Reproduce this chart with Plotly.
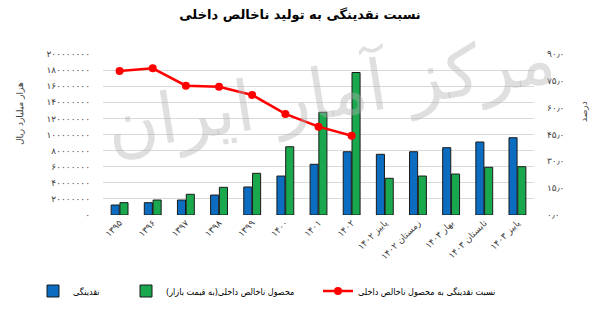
import plotly.graph_objects as go

categories = ["۱۳۹۵", "۱۳۹۶", "۱۳۹۷", "۱۳۹۸", "۱۳۹۹", "۱۴۰۰", "۱۴۰۱", "۱۴۰۲",
              "پاییز ۱۴۰۲", "زمستان ۱۴۰۲", "بهار ۱۴۰۳", "تابستان ۱۴۰۳", "پاییز ۱۴۰۳"]
liquidity = [12.4e6, 15.3e6, 18.6e6, 24.8e6, 34.8e6, 48.4e6, 63.0e6, 78.6e6,
             75.4e6, 78.6e6, 83.6e6, 90.7e6, 96.0e6]
gdp = [15.3e6, 18.6e6, 25.7e6, 34.4e6, 51.8e6, 84.8e6, 127.6e6, 177.0e6,
       45.6e6, 48.4e6, 50.9e6, 59.3e6, 60.0e6]
ratio = [80.5, 82.0, 72.3, 71.7, 67.1, 56.5, 49.4, 44.3,
         None, None, None, None, None]

left_ticks = [i * 20000000 for i in range(11)]
right_ticks = [0, 15, 30, 45, 60, 75, 90]

name_liq = "نقدینگی"
name_gdp = "محصول ناخالص داخلی(به قیمت بازار)"
name_ratio = "نسبت نقدینگی به محصول ناخالص داخلی"
title_text = "نسبت نقدینگی به تولید ناخالص داخلی"
left_title = "هزار میلیارد ریال"
right_title = "درصد"
watermark = "مرکز آمار ایران"

FA = str.maketrans("0123456789", "۰۱۲۳۴۵۶۷۸۹")
def fa(s):
    return str(s).translate(FA)

left_text = [fa(v) for v in left_ticks]
right_text = [fa(v) + "٫" + "۰" for v in right_ticks]

FONT = "DejaVu Sans"
FONT_C = "DejaVu Sans Condensed, DejaVu Sans"

fig = go.Figure()
fig.add_trace(go.Bar(
    x=categories, y=liquidity, name=name_liq, legend="legend",
    marker=dict(color="#0b6cc0", line=dict(color="#1a1a1a", width=1)),
))
fig.add_trace(go.Bar(
    x=categories, y=gdp, name=name_gdp, legend="legend2",
    marker=dict(color="#19a84e", line=dict(color="#1a1a1a", width=1)),
))
fig.add_trace(go.Scatter(
    x=categories, y=ratio, name=name_ratio, yaxis="y2", legend="legend3",
    mode="lines+markers",
    line=dict(color="#ff0000", width=2.5),
    marker=dict(color="#ff0000", size=8),
))

leg_y = 1 - 291 / 314
def leg(xpx):
    return dict(orientation="h", xref="container", yref="container",
                x=xpx / 600, xanchor="left", y=leg_y, yanchor="middle",
                font=dict(family=FONT_C, size=9, color="#000000"),
                itemwidth=30, bgcolor="rgba(0,0,0,0)")

fig.update_layout(
    width=600, height=314,
    margin=dict(l=103, r=66, t=54, b=99, autoexpand=False),
    paper_bgcolor="white", plot_bgcolor="white",
    font=dict(family=FONT, size=9, color="#404040"),
    barmode="group", bargap=0.47, bargroupgap=0.08,
    title=dict(text="<b>" + title_text + "</b>", x=0.5, xanchor="center",
               y=1 - 14 / 314, yanchor="middle",
               font=dict(family=FONT, size=13, color="#000000")),
    xaxis=dict(type="category", range=[-0.5, len(categories) - 0.5],
               tickangle=-45, showgrid=False, automargin=False,
               showline=False, ticks="", tickfont=dict(size=9, color="#404040")),
    yaxis=dict(range=[0, 200000000], tickvals=left_ticks, ticktext=left_text,
               automargin=False, ticklabelstandoff=12,
               showgrid=True, gridcolor="#d9d9d9", gridwidth=1, zeroline=False,
               showline=False, ticks="", tickfont=dict(size=9, color="#404040")),
    yaxis2=dict(range=[0, 90], tickvals=right_ticks, ticktext=right_text,
                automargin=False,
                overlaying="y", side="right", showgrid=False, zeroline=False,
                showline=False, ticks="", ticklabelstandoff=12,
                tickfont=dict(size=9, color="#404040")),
    showlegend=True,
    legend=leg(33),
    legend2=leg(126),
    legend3=leg(318),
    annotations=[
        dict(text=left_title, xref="paper", yref="paper", x=-90 / 431,
             y=(215 - 114) / 161, textangle=-90, showarrow=False,
             font=dict(family=FONT, size=9, color="#404040")),
        dict(text=right_title, xref="paper", yref="paper", x=(591 - 103) / 431,
             y=(215 - 112) / 161, textangle=-90, showarrow=False,
             font=dict(family=FONT, size=9, color="#404040")),
        dict(text=watermark, xref="paper", yref="paper", x=0.527, y=1.25,
             textangle=-9, showarrow=False,
             font=dict(family=FONT, size=70, color="rgba(175,175,175,0.4)")),
    ],
)

fig.write_html("out.html")
